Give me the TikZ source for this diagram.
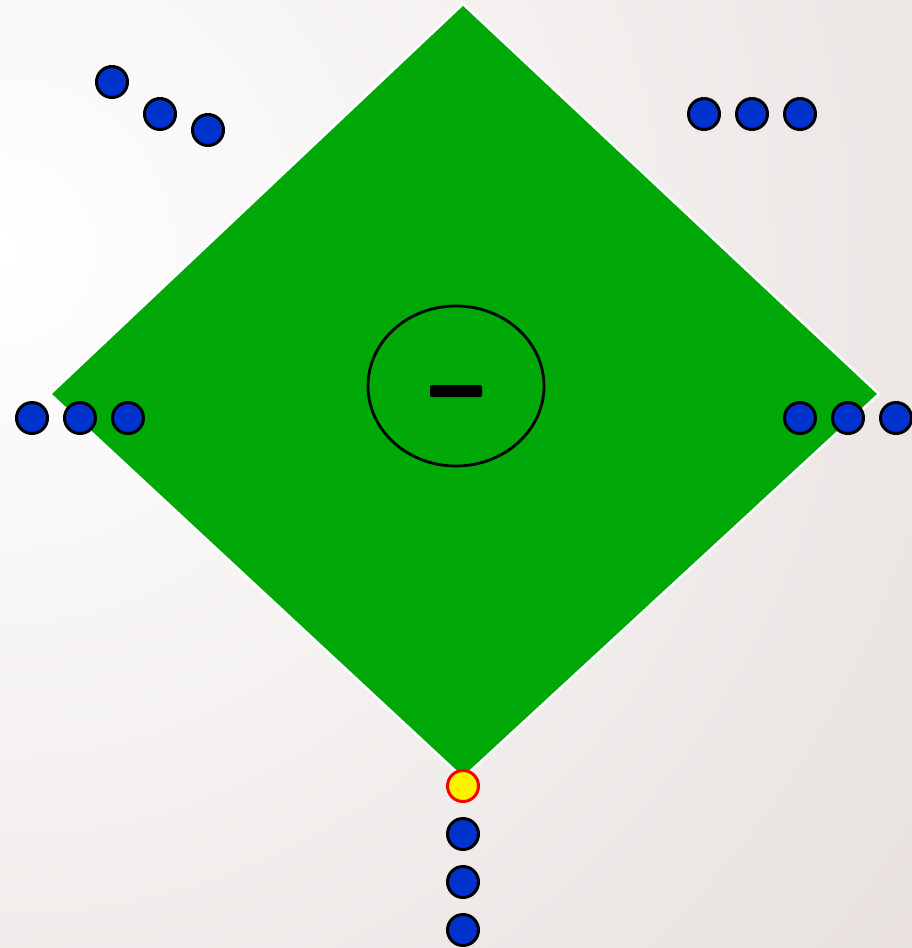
\documentclass[tikz,border=0pt]{standalone}
\usetikzlibrary{shapes.geometric}
\definecolor{bgc}{RGB}{220,210,207}
\definecolor{field}{RGB}{0,168,8}
\definecolor{player}{RGB}{0,51,204}
\tikzset{
  player/.style={circle,draw=black,fill=player,line width=3pt,minimum size=31pt,inner sep=0pt},
  runner/.style={circle,draw=red,fill=yellow,line width=3pt,minimum size=31pt,inner sep=0pt},
}
\begin{document}
\begin{tikzpicture}[x=1pt,y=-1pt]
\useasboundingbox (0,0) rectangle (912,948);
\begin{scope}
\clip (0,0) rectangle (912,948);
\shade[inner color=white,outer color=bgc] (0,250) circle (1700);
\end{scope}
% field
\filldraw[fill=field,draw=white,line width=2.5pt] (463,4) coordinate (top) -- (879,394) coordinate (right) -- (463,778) coordinate (bottom) -- (50,394) coordinate (left) -- cycle;
% mound
\node[ellipse,draw=black,line width=2.8pt,minimum width=176pt,minimum height=160pt,inner sep=0pt] (mound) at (456,386) {};
\node[fill=black,rounded corners=1.5pt,minimum width=52pt,minimum height=12pt,inner sep=0pt] (rubber) at (456,391) {};
% top-left group
\node[player] (tl1) at (112,82) {};
\node[player] (tl2) at (160,114) {};
\node[player] (tl3) at (208,130) {};
% top-right group
\node[player] (tr1) at (704,114) {};
\node[player] (tr2) at (752,114) {};
\node[player] (tr3) at (800,114) {};
% left group
\node[player] (l1) at (32,418) {};
\node[player] (l2) at (80,418) {};
\node[player] (l3) at (128,418) {};
% right group
\node[player] (r1) at (800,418) {};
\node[player] (r2) at (848,418) {};
\node[player] (r3) at (896,418) {};
% bottom group
\node[runner] (b0) at (463,786) {};
\node[player] (b1) at (463,834) {};
\node[player] (b2) at (463,882) {};
\node[player] (b3) at (463,930) {};
\end{tikzpicture}
\end{document}
